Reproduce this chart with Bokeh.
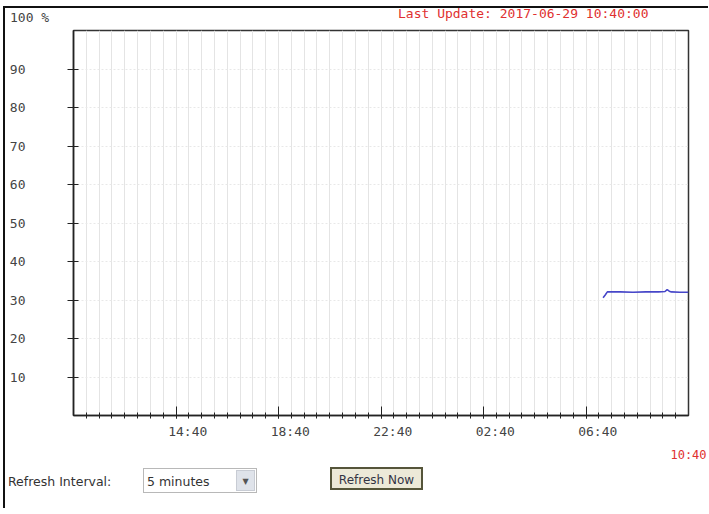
import pandas as pd
from bokeh.plotting import figure
from bokeh.layouts import column
from bokeh.models import Range1d, FixedTicker, LinearAxis, ColumnDataSource, Grid, Div
from bokeh.embed import file_html
from bokeh.resources import INLINE

# ---- data -------------------------------------------------------------
range_start = "2017-06-28 10:40"
range_end = "2017-06-29 10:40"
last_update = "Last Update: 2017-06-29 10:40:00"

major_tick_times = ["2017-06-28 14:40", "2017-06-28 18:40", "2017-06-28 22:40",
                    "2017-06-29 02:40", "2017-06-29 06:40"]
major_tick_labels = ["14:40", "18:40", "22:40", "02:40", "06:40"]
end_tick_label = "10:40"

y_ticks = [10, 20, 30, 40, 50, 60, 70, 80, 90]
y_top_label = "100 %"

series_times = ["2017-06-29 07:20", "2017-06-29 07:25", "2017-06-29 07:30",
                "2017-06-29 08:00", "2017-06-29 08:30", "2017-06-29 09:00",
                "2017-06-29 09:30", "2017-06-29 09:45", "2017-06-29 09:50",
                "2017-06-29 09:55", "2017-06-29 10:00", "2017-06-29 10:20",
                "2017-06-29 10:40"]
series_values = [30.6, 31.3, 32.1, 32.1, 32.0, 32.1, 32.1, 32.2, 32.7, 32.3, 32.1,
                 32.0, 32.0]

refresh_label = "Refresh Interval:"
refresh_choice = "5 minutes"
refresh_button = "Refresh Now"


def ms(s):
    return pd.Timestamp(s).value / 1e6


t0, t1 = ms(range_start), ms(range_end)
half_hour = 30 * 60 * 1000
minor = [t0 + i * half_hour for i in range(1, 48)]
majors = [ms(t) for t in major_tick_times]

FONT = "DejaVu Sans Mono"
TXT = "#444444"
NB = "\u00a0\u00a0\u00a0"

p = figure(width=703, height=441, output_backend="svg", toolbar_location=None,
           x_axis_type=None, y_axis_location=None,
           x_range=Range1d(t0, t1), y_range=Range1d(0, 100),
           min_border_left=68, min_border_right=20, min_border_top=6,
           min_border_bottom=50, margin=0)
p.outline_line_color = "#333333"
p.outline_line_width = 1.5

# y axis
yax = LinearAxis(ticker=FixedTicker(ticks=y_ticks, minor_ticks=[]))
yax.axis_line_color = "#222222"
yax.axis_line_width = 1.5
yax.major_tick_in = 5
yax.major_tick_out = 6
yax.major_tick_line_color = "#222222"
yax.major_label_standoff = 42
yax.major_label_text_font = FONT
yax.major_label_text_font_size = "13px"
yax.major_label_text_color = TXT
p.add_layout(yax, "left")

# x axis
xax = LinearAxis(ticker=FixedTicker(ticks=majors, minor_ticks=minor))
xax.major_label_overrides = {m: NB + l for m, l in zip(majors, major_tick_labels)}
xax.axis_line_color = "#222222"
xax.axis_line_width = 1.5
xax.major_tick_in = 9
xax.major_tick_out = 3
xax.minor_tick_in = 3
xax.minor_tick_out = 3
xax.major_tick_line_color = "#222222"
xax.minor_tick_line_color = "#222222"
xax.major_label_standoff = 5
xax.major_label_text_font = FONT
xax.major_label_text_font_size = "13px"
xax.major_label_text_color = TXT
p.add_layout(xax, "below")

# second x axis with the red end label
xax2 = LinearAxis(ticker=FixedTicker(ticks=[t1], minor_ticks=[]))
xax2.major_label_overrides = {t1: end_tick_label}
xax2.axis_line_color = None
xax2.major_tick_line_color = None
xax2.minor_tick_line_color = None
xax2.major_label_standoff = 0
xax2.major_label_text_font = FONT
xax2.major_label_text_font_size = "12px"
xax2.major_label_text_color = "#e03030"
p.add_layout(xax2, "below")

# grids
p.xgrid.visible = False
p.ygrid.visible = False
vg = Grid(dimension=0, ticker=FixedTicker(ticks=minor, minor_ticks=[]),
          grid_line_color="#e4e4e4", grid_line_width=1)
hg = Grid(dimension=1, ticker=FixedTicker(ticks=y_ticks, minor_ticks=[]),
          grid_line_color="#e8e8e8", grid_line_width=1, grid_line_dash="2 2")
p.add_layout(vg)
p.add_layout(hg)

# series
src = ColumnDataSource(dict(t=[ms(t) for t in series_times], v=series_values))
p.line("t", "v", source=src, line_color="#4646c8", line_width=1.6)

mono = f"font-family:'{FONT}';font-size:13px;line-height:15px;white-space:nowrap;"
top = Div(width=703, height=16, margin=0, styles={"overflow": "visible"}, text=(
    f'<div style="position:relative;width:703px;height:16px;">'
    f'<span style="position:absolute;left:5px;top:2px;color:{TXT};{mono}">{y_top_label}</span>'
    f'<span style="position:absolute;left:393px;top:-2px;color:#e03030;{mono}">{last_update}</span>'
    f'</div>'))

sans = "font-family:'DejaVu Sans';font-size:12.5px;line-height:15px;white-space:nowrap;"
bottom = Div(width=703, height=43, margin=0, text=(
    f'<div style="position:relative;width:703px;height:43px;">'
    f'<span style="position:absolute;left:3px;top:9px;color:#333;{sans}">{refresh_label}</span>'
    f'<div style="position:absolute;left:138px;top:3px;width:114px;height:25px;'
    f'border:1px solid #b8b8b8;background:#fff;"></div>'
    f'<span style="position:absolute;left:142px;top:9px;color:#333;{sans}">{refresh_choice}</span>'
    f'<div style="position:absolute;left:231px;top:5px;width:19px;height:21px;'
    f'border:1px solid #c8ccd4;background:#dfe3ea;color:#555;font-size:8px;'
    f'line-height:21px;text-align:center;font-family:\'DejaVu Sans\';">&#9660;</div>'
    f'<div style="position:absolute;left:325px;top:2px;width:93px;height:23px;'
    f'border:2px solid #55553a;background:#ece9d8;color:#333344;'
    f'font-family:\'DejaVu Sans\';font-size:12px;line-height:23px;text-align:center;">'
    f'{refresh_button}</div>'
    f'</div>'))

layout = column(top, p, bottom, spacing=0, margin=0,
                styles={"margin-left": "3px", "margin-top": "6px",
                        "border-left": "2px solid #111", "border-top": "2px solid #111"})

open("out.html", "w").write(file_html(layout, INLINE))
